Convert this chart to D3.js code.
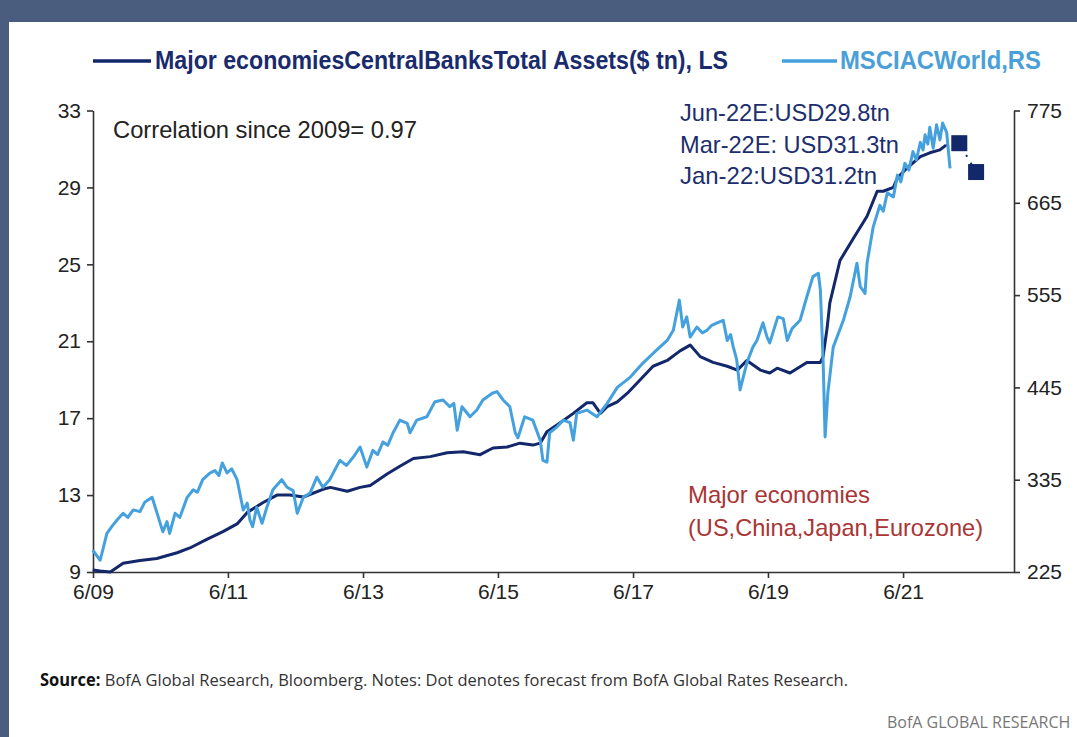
<!DOCTYPE html>
<html>
<head>
<meta charset="utf-8">
<script src="https://cdn.jsdelivr.net/npm/d3@7"></script>
<style>
  html, body { margin: 0; padding: 0; background: #fff; }
  svg { display: block; }
</style>
</head>
<body>
<svg id="chart" width="1077" height="737"></svg>
<script>
// Major economies' central bank total assets, $ tn  [decimal year, value]
const assetsSeries = [
  [2009.41, 9.1], [2009.52, 9.05], [2009.67, 9.0], [2009.86, 9.45], [2010.11, 9.6],
  [2010.36, 9.7], [2010.66, 10.0], [2010.85, 10.25], [2011.10, 10.7], [2011.34, 11.1],
  [2011.55, 11.5], [2011.70, 12.1], [2011.93, 12.6], [2012.14, 13.0], [2012.33, 13.0],
  [2012.53, 12.9], [2012.82, 13.3], [2012.93, 13.4], [2013.18, 13.2], [2013.37, 13.4],
  [2013.52, 13.5], [2013.77, 14.1], [2013.96, 14.5], [2014.16, 14.9], [2014.41, 15.0],
  [2014.66, 15.2], [2014.90, 15.25], [2015.15, 15.1], [2015.34, 15.45], [2015.55, 15.5],
  [2015.74, 15.7], [2015.93, 15.6], [2016.04, 15.7], [2016.14, 16.3], [2016.33, 16.75],
  [2016.53, 17.25], [2016.73, 17.8], [2016.82, 17.8], [2016.93, 17.25], [2017.03, 17.6],
  [2017.18, 17.85], [2017.33, 18.3], [2017.52, 19.0], [2017.71, 19.7], [2017.92, 20.0],
  [2018.11, 20.5], [2018.26, 20.8], [2018.41, 20.2], [2018.60, 19.9], [2018.81, 19.7],
  [2018.96, 19.5], [2019.10, 20.0], [2019.30, 19.5], [2019.44, 19.35], [2019.55, 19.6],
  [2019.74, 19.35], [2019.99, 19.9], [2020.19, 19.9], [2020.23, 20.2], [2020.29, 21.7],
  [2020.33, 23.0], [2020.48, 25.2], [2020.67, 26.3], [2020.88, 27.5], [2021.03, 28.8],
  [2021.12, 28.8], [2021.27, 29.0], [2021.33, 29.5], [2021.47, 30.0], [2021.67, 30.6],
  [2021.81, 30.8], [2021.96, 30.95], [2022.05, 31.2]
];

// MSCI AC World index level  [decimal year, value]
const msciSeries = [
  [2009.41, 251], [2009.52, 239], [2009.62, 271], [2009.70, 280], [2009.77, 287],
  [2009.86, 295], [2009.93, 290], [2010.01, 299], [2010.11, 297], [2010.18, 308],
  [2010.29, 314], [2010.36, 296], [2010.41, 283], [2010.45, 273], [2010.51, 285],
  [2010.55, 271], [2010.63, 295], [2010.70, 290], [2010.81, 314], [2010.90, 323],
  [2010.96, 320], [2011.04, 335], [2011.15, 343], [2011.22, 346], [2011.28, 340],
  [2011.33, 355], [2011.40, 343], [2011.47, 348], [2011.55, 335], [2011.64, 299],
  [2011.70, 307], [2011.74, 287], [2011.78, 279], [2011.84, 302], [2011.92, 283],
  [2011.99, 302], [2012.08, 323], [2012.21, 335], [2012.29, 326], [2012.38, 322],
  [2012.44, 295], [2012.53, 314], [2012.63, 319], [2012.73, 338], [2012.82, 326],
  [2012.92, 335], [2013.07, 358], [2013.17, 352], [2013.27, 362], [2013.37, 374],
  [2013.47, 350], [2013.56, 370], [2013.63, 365], [2013.71, 380], [2013.78, 376],
  [2013.86, 391], [2013.96, 406], [2014.07, 402], [2014.11, 391], [2014.21, 406],
  [2014.36, 410], [2014.48, 428], [2014.60, 430], [2014.70, 422], [2014.76, 426],
  [2014.81, 394], [2014.88, 422], [2015.00, 410], [2015.10, 418], [2015.19, 430],
  [2015.33, 438], [2015.40, 440], [2015.49, 430], [2015.59, 422], [2015.67, 391],
  [2015.71, 385], [2015.81, 410], [2015.93, 406], [2016.04, 382], [2016.08, 358],
  [2016.14, 356], [2016.18, 391], [2016.29, 398], [2016.38, 406], [2016.48, 403],
  [2016.53, 382], [2016.58, 414], [2016.73, 418], [2016.88, 410], [2017.03, 426],
  [2017.18, 445], [2017.37, 457], [2017.56, 474], [2017.77, 490], [2017.92, 501],
  [2018.01, 513], [2018.10, 549], [2018.15, 517], [2018.21, 529], [2018.26, 505],
  [2018.36, 517], [2018.44, 510], [2018.51, 513], [2018.58, 519], [2018.66, 522],
  [2018.75, 525], [2018.81, 501], [2018.86, 508], [2018.90, 493], [2018.95, 478],
  [2019.00, 442], [2019.10, 474], [2019.19, 493], [2019.25, 501], [2019.34, 522],
  [2019.40, 505], [2019.44, 498], [2019.56, 529], [2019.64, 527], [2019.70, 501],
  [2019.77, 515], [2019.89, 525], [2019.99, 553], [2020.08, 577], [2020.16, 581],
  [2020.19, 561], [2020.23, 478], [2020.26, 386], [2020.30, 438], [2020.38, 493],
  [2020.53, 525], [2020.63, 553], [2020.73, 593], [2020.78, 565], [2020.85, 557],
  [2020.88, 593], [2020.97, 636], [2021.07, 662], [2021.12, 655], [2021.18, 677],
  [2021.27, 672], [2021.33, 698], [2021.38, 690], [2021.44, 712], [2021.50, 704],
  [2021.56, 726], [2021.61, 716], [2021.67, 737], [2021.71, 728], [2021.74, 746],
  [2021.78, 735], [2021.81, 755], [2021.86, 730], [2021.91, 758], [2021.96, 740],
  [2022.00, 760], [2022.06, 749], [2022.11, 706]
];

// Last actual reading followed by the two forecast points (Mar-22E, Jun-22E)
const forecastPath = [[2022.05, 31.2], [2022.247, 31.3], [2022.496, 29.8]];
const forecastPoints = [[2022.247, 31.3], [2022.496, 29.8]];

const leftTicks = [9, 13, 17, 21, 25, 29, 33];
const rightTicks = [225, 335, 445, 555, 665, 775];
const xTickYears = [2009, 2011, 2013, 2015, 2017, 2019, 2021];

const legendLabels = ["Major economiesCentralBanksTotal Assets($ tn), LS", "MSCIACWorld,RS"];
const correlationLabel = "Correlation since 2009= 0.97";
const balanceLabels = ["Jun-22E:USD29.8tn", "Mar-22E: USD31.3tn", "Jan-22:USD31.2tn"];
const regionLabels = ["Major economies", "(US,China,Japan,Eurozone)"];
const sourceBold = "Source:";
const sourceText = " BofA Global Research, Bloomberg. Notes: Dot denotes forecast from BofA Global Rates Research.";
const brandLabel = "BofA GLOBAL RESEARCH";

const NAVY = "#13276b";
const LIGHT = "#44a1dd";
const AXIS = "#333";
const FONT = "'Liberation Sans', Arial, sans-serif";

function yearToDate(t) {
  const y = Math.floor(t);
  const a = Date.UTC(y, 0, 1), b = Date.UTC(y + 1, 0, 1);
  return new Date(a + (t - y) * (b - a));
}

const svg = d3.select("#chart");

// page frame
svg.append("rect").attr("x", 0).attr("y", 0).attr("width", 1077).attr("height", 737).attr("fill", "#fff");
svg.append("rect").attr("x", 0).attr("y", 0).attr("width", 1077).attr("height", 22).attr("fill", "#4a5d7e");
svg.append("rect").attr("x", 0).attr("y", 0).attr("width", 9).attr("height", 737).attr("fill", "#4a5d7e");

const plot = { left: 93, right: 1014, top: 110.5, bottom: 572 };

const x = d3.scaleUtc()
  .domain([new Date(Date.UTC(2009, 5, 1)), yearToDate(2023.058)])
  .range([plot.left, plot.right]);
const yL = d3.scaleLinear().domain([9, 33]).range([plot.bottom, plot.top]);
const yR = d3.scaleLinear().domain([225, 775]).range([plot.bottom, plot.top]);

// axes
const xAxis = d3.axisBottom(x)
  .tickValues(xTickYears.map(y => new Date(Date.UTC(y, 5, 1))))
  .tickFormat(d3.utcFormat("%-m/%y"))
  .tickSize(6).tickSizeOuter(0).tickPadding(6);
const leftAxis = d3.axisLeft(yL).tickValues(leftTicks).tickSize(6).tickSizeOuter(0).tickPadding(6);
const rightAxis = d3.axisRight(yR).tickValues(rightTicks).tickSize(6).tickSizeOuter(0).tickPadding(7);

function styleAxis(g) {
  g.selectAll("path, line").attr("stroke", AXIS).attr("stroke-width", 1.6);
  g.selectAll("text").attr("fill", "#222").style("font-family", FONT).style("font-size", "21px");
}

svg.append("g").attr("transform", `translate(0,${plot.bottom})`).call(xAxis).call(styleAxis);
svg.append("g").attr("transform", `translate(${plot.left},0)`).call(leftAxis).call(styleAxis);
svg.append("g").attr("transform", `translate(${plot.right},0)`).call(rightAxis).call(styleAxis);

// series
const assetsLine = d3.line().x(d => x(yearToDate(d[0]))).y(d => yL(d[1]));
const msciLine = d3.line().x(d => x(yearToDate(d[0]))).y(d => yR(d[1]));

svg.append("path").datum(assetsSeries)
  .attr("d", assetsLine).attr("fill", "none").attr("stroke", NAVY)
  .attr("stroke-width", 3).attr("stroke-linejoin", "round");

svg.append("path").datum(forecastPath)
  .attr("d", assetsLine).attr("fill", "none").attr("stroke", NAVY)
  .attr("stroke-width", 2).attr("stroke-dasharray", "2,7");

svg.append("path").datum(msciSeries)
  .attr("d", msciLine).attr("fill", "none").attr("stroke", LIGHT)
  .attr("stroke-width", 3).attr("stroke-linejoin", "round");

const sq = 16;
svg.selectAll("rect.forecast").data(forecastPoints).enter().append("rect")
  .attr("class", "forecast")
  .attr("x", d => x(yearToDate(d[0])) - sq / 2)
  .attr("y", d => yL(d[1]) - sq / 2)
  .attr("width", sq).attr("height", sq)
  .attr("fill", NAVY);

// legend
const legend = svg.append("g");
legend.append("line").attr("x1", 93).attr("x2", 151).attr("y1", 61).attr("y2", 61)
  .attr("stroke", NAVY).attr("stroke-width", 3.5);
legend.append("text").attr("x", 155).attr("y", 69)
  .attr("textLength", 573).attr("lengthAdjust", "spacingAndGlyphs")
  .style("font-family", FONT).style("font-size", "25px").style("font-weight", "bold")
  .attr("fill", "#1a2b6d").text(legendLabels[0]);
legend.append("line").attr("x1", 782).attr("x2", 837).attr("y1", 61).attr("y2", 61)
  .attr("stroke", LIGHT).attr("stroke-width", 3.5);
legend.append("text").attr("x", 840).attr("y", 69)
  .attr("textLength", 201).attr("lengthAdjust", "spacingAndGlyphs")
  .style("font-family", FONT).style("font-size", "25px").style("font-weight", "bold")
  .attr("fill", "#4a9fd9").text(legendLabels[1]);

// annotations
svg.append("text").attr("x", 113).attr("y", 138)
  .attr("textLength", 304).attr("lengthAdjust", "spacingAndGlyphs")
  .style("font-family", FONT).style("font-size", "24px").attr("fill", "#222")
  .text(correlationLabel);

const balanceWidths = [210, 219, 197];
balanceLabels.forEach((t, i) => {
  svg.append("text").attr("x", 680).attr("y", 121 + i * 31.5)
    .attr("textLength", balanceWidths[i]).attr("lengthAdjust", "spacingAndGlyphs")
    .style("font-family", FONT).style("font-size", "24px").attr("fill", "#1d2e6e")
    .text(t);
});

const regionWidths = [182, 295];
regionLabels.forEach((t, i) => {
  svg.append("text").attr("x", 688).attr("y", 503 + i * 33)
    .attr("textLength", regionWidths[i]).attr("lengthAdjust", "spacingAndGlyphs")
    .style("font-family", FONT).style("font-size", "24px").attr("fill", "#a93535")
    .text(t);
});

// footer
const src = svg.append("text").attr("x", 40).attr("y", 686)
  .attr("textLength", 808).attr("lengthAdjust", "spacingAndGlyphs")
  .style("font-family", "'Open Sans', sans-serif").style("font-size", "17px").attr("fill", "#333");
src.append("tspan").style("font-weight", "bold").attr("fill", "#111").text(sourceBold);
src.append("tspan").text(sourceText);

svg.append("text").attr("x", 887).attr("y", 728)
  .style("font-family", "'Open Sans', sans-serif").style("font-size", "16px").attr("fill", "#777")
  .text(brandLabel);
</script>
</body>
</html>
